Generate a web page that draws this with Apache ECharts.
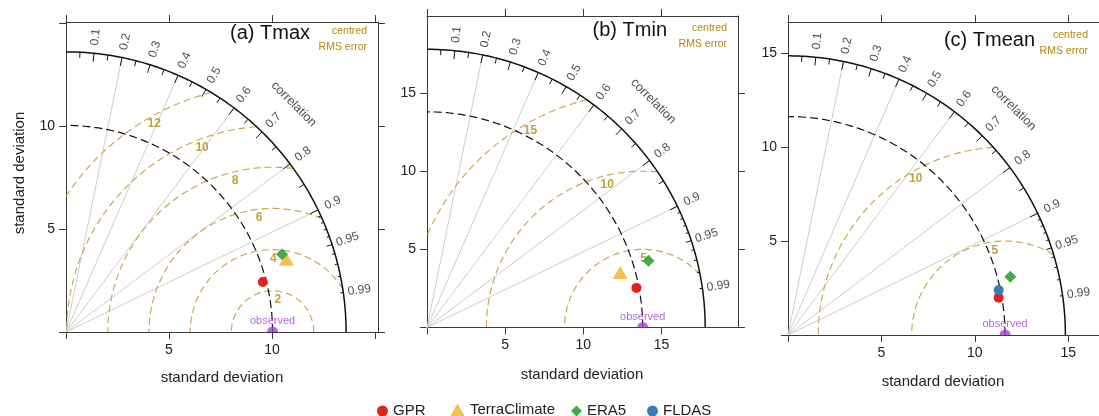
<!DOCTYPE html>
<html><head><meta charset="utf-8">
<script src="https://cdn.jsdelivr.net/npm/echarts@6/dist/echarts.min.js"></script>
<style>html,body{margin:0;padding:0;background:#fff}#c{width:1099px;height:416px}</style>
</head><body><div id="c"></div>
<script>
// ---------------- data ----------------
const panelTitles = ['(a) Tmax', '(b) Tmin', '(c) Tmean'];
const observedSD = [10.03, 13.8, 11.62];          // reference (observed) standard deviation
const maxSD = [13.6, 17.8, 14.85];                // radius of the outer correlation arc
const rmsContours = [[2, 4, 6, 8, 10, 12], [5, 10, 15], [5, 10]];
const corrLabels = [0.1, 0.2, 0.3, 0.4, 0.5, 0.6, 0.7, 0.8, 0.9, 0.95, 0.99];
const corrGridLines = [0.2, 0.4, 0.6, 0.8, 0.9];
const axisTickValues = [0, 5, 10, 15];
const axisTickLabelMax = [10, 15, 15];
// model statistics per panel: [standard deviation, correlation]
const gprStats   = [[9.86, 0.9692], [13.64, 0.9826], [11.45, 0.9849]];
const terraStats = [[11.27, 0.9495], [12.86, 0.9617], null];
const era5Stats  = [[11.15, 0.9408], [14.80, 0.9576], [12.30, 0.9677]];
const fldasStats = [null, null, [11.53, 0.9783]];
const legendNames = ['GPR', 'TerraClimate', 'ERA5', 'FLDAS'];

// ---------------- style / layout ----------------
const FONT = '"Liberation Sans", Arial, Helvetica, sans-serif';
const GOLD_LINE = '#CCA54C';
const GOLD_TEXT = '#B8860B';
const PURPLE = '#A23FD8';
const AX = '#3a3a3a';
const layout = [
  {grid: {left: 66, top: 22, width: 312, height: 310}, xMax: 15.15, yMax: 15.05,
   title: [310, 33], rmsTxt: [367, 31], xName: [222, 378]},
  {grid: {left: 427, top: 16, width: 311, height: 311.5}, xMax: 19.9, yMax: 19.93,
   title: [667, 30], rmsTxt: [727, 28], xName: [582, 375]},
  {grid: {left: 788, top: 22, width: 313, height: 313}, xMax: 16.65, yMax: 16.65,
   title: [1035, 40], rmsTxt: [1088, 35], xName: [943, 382]}
];
const modelStyles = {
  GPR: {symbol: 'circle', symbolSize: 10, color: '#E3201C'},
  TerraClimate: {symbol: 'triangle', symbolSize: [15, 13], color: '#F2C14E'},
  ERA5: {symbol: 'diamond', symbolSize: 12, color: '#45A84A'},
  FLDAS: {symbol: 'circle', symbolSize: 10, color: '#3A7DB8'}
};

function toXY(sd, c) { return [sd * c, sd * Math.sqrt(Math.max(0, 1 - c * c))]; }
function arcPts(r, a0, a1, n) {
  const p = [];
  for (let i = 0; i <= n; i++) { const a = a0 + (a1 - a0) * i / n; p.push([r * Math.cos(a), r * Math.sin(a)]); }
  return p;
}
function rmsPts(c, g, R, n) {
  let s = 0, e = Math.PI;
  const cs = (R * R - c * c - g * g) / (2 * c * g);
  if (cs < 1) s = Math.acos(Math.max(-1, cs));
  if (g > c) e = Math.acos(-c / g);
  const p = [];
  for (let i = 0; i <= n; i++) { const a = s + (e - s) * i / n; p.push([c + g * Math.cos(a), g * Math.sin(a)]); }
  return p;
}

const xAxis = [], yAxis = [], grid = [], series = [], graphic = [];
layout.forEach((L, i) => {
  grid.push(Object.assign({containLabel: false}, L.grid));
  const lblMax = axisTickLabelMax[i];
  const fmt = v => (v > 0 && v <= lblMax + 1e-9) ? String(v) : '';
  const base = (pos, max, showLabel) => ({
    gridIndex: i, type: 'value', min: 0, max: max, interval: 5, position: pos,
    axisLine: {show: true, onZero: false, lineStyle: {color: AX, width: 1}},
    axisTick: {show: true, length: 7, inside: false, customValues: axisTickValues.filter(v => v <= max),
               lineStyle: {color: AX, width: 1}},
    axisLabel: {show: showLabel, formatter: fmt, fontSize: 14, color: '#222', fontFamily: FONT, margin: 11,
                customValues: axisTickValues.filter(v => v > 0 && v <= lblMax)},
    splitLine: {show: false}
  });
  xAxis.push(base('bottom', L.xMax, true), base('top', L.xMax, false));
  yAxis.push(base('left', L.yMax, true), base('right', L.yMax, false));
  const xi = 2 * i, yi = 2 * i;
  const R = maxSD[i], obs = observedSD[i];
  const common = {xAxisIndex: xi, yAxisIndex: yi, silent: true, animation: false};

  // grey correlation lines
  series.push(Object.assign({type: 'lines', coordinateSystem: 'cartesian2d', z: 1,
    lineStyle: {color: '#cdcdcd', width: 1, opacity: 1},
    data: corrGridLines.map(c => ({coords: [[0, 0], toXY(R, c)]}))}, common));
  // centred RMS contours
  rmsContours[i].forEach(g => {
    series.push(Object.assign({type: 'line', z: 2, symbol: 'none', smooth: false,
      lineStyle: {color: GOLD_LINE, width: 1.15, type: [7, 4]},
      data: rmsPts(obs, g, R, 160)}, common));
  });
  // observed SD arc
  series.push(Object.assign({type: 'line', z: 3, symbol: 'none',
    lineStyle: {color: '#111', width: 1.2, type: [8, 4]},
    data: arcPts(obs, 0, Math.PI / 2, 120)}, common));
  // outer arc
  series.push(Object.assign({type: 'line', z: 3, symbol: 'none',
    lineStyle: {color: '#111', width: 1.5},
    data: arcPts(R, 0, Math.PI / 2, 160)}, common));
  // ticks on the outer arc
  const tick = [];
  for (let k = 1; k <= 9; k++) tick.push([k / 10, 0.97]);
  for (let k = 0; k <= 9; k++) tick.push([0.05 + k / 10, 0.98]);
  for (let k = 1; k <= 9; k++) if (k !== 5) tick.push([0.9 + k / 100, 0.99]);
  series.push(Object.assign({type: 'lines', coordinateSystem: 'cartesian2d', z: 4,
    lineStyle: {color: '#111', width: 1, opacity: 1},
    data: tick.map(t => ({coords: [toXY(R, t[0]), toXY(R * t[1], t[0])]}))}, common));
  // correlation labels
  series.push(Object.assign({type: 'scatter', z: 5, symbolSize: 1, itemStyle: {color: 'rgba(0,0,0,0)'},
    label: {show: true, position: 'inside', fontSize: 12, color: '#222', fontFamily: FONT},
    data: corrLabels.map(c => ({value: toXY(R * 1.058, c),
      label: {formatter: String(c), rotate: Math.acos(c) * 180 / Math.PI}}))}, common));
  series.push(Object.assign({type: 'scatter', z: 5, symbolSize: 1, itemStyle: {color: 'rgba(0,0,0,0)'},
    label: {show: true, position: 'inside', fontSize: 12.5, color: '#222', fontFamily: FONT},
    data: [{value: toXY(R * 1.15, Math.SQRT1_2), label: {formatter: 'correlation', rotate: -45}}]}, common));
  // RMS contour labels
  const gs = rmsContours[i], n = gs.length + 1;
  series.push(Object.assign({type: 'scatter', z: 5, symbolSize: 1, itemStyle: {color: 'rgba(0,0,0,0)'},
    label: {show: true, position: 'inside', offset: [0, 9], fontSize: 12, fontWeight: 'bold',
            color: GOLD_TEXT, fontFamily: FONT},
    data: gs.map((g, k) => {
      const idx = Math.floor(45 + 25 * (k + 1) / (n - 1));
      const a = (idx - 1) * 0.03;
      return {value: [obs + g * Math.cos(a), g * Math.sin(a)], label: {formatter: String(g)}};
    })}, common));
  // observed point + label
  series.push(Object.assign({type: 'scatter', z: 6, symbol: 'path://M0,10 A10,10 0 0 1 20,10 Z',
    symbolSize: [11, 5.5], symbolOffset: [0, '-50%'], itemStyle: {color: PURPLE},
    label: {show: true, position: 'inside', offset: [0, -8], formatter: 'observed',
            fontSize: 11, color: PURPLE, fontFamily: FONT},
    data: [[obs, 0]]}, common));
  // model points
  [[gprStats, 'GPR'], [terraStats, 'TerraClimate'], [era5Stats, 'ERA5'], [fldasStats, 'FLDAS']].forEach(([arr, name]) => {
    const st = arr[i];
    if (!st) return;
    const s = modelStyles[name];
    series.push({type: 'scatter', name: name, xAxisIndex: xi, yAxisIndex: yi, z: 7, animation: false,
      symbol: s.symbol, symbolSize: s.symbolSize, itemStyle: {color: s.color, opacity: 1},
      data: [toXY(st[0], st[1])]});
  });

  // texts
  graphic.push({type: 'text', x: L.title[0], y: L.title[1], silent: true,
    style: {text: panelTitles[i], font: '20px ' + FONT, fill: '#111', textAlign: 'right', align: 'right',
            textVerticalAlign: 'middle', verticalAlign: 'middle'}});
  graphic.push({type: 'text', x: L.rmsTxt[0], y: L.rmsTxt[1], silent: true,
    style: {text: 'centred', font: '10.5px ' + FONT, fill: GOLD_TEXT, textAlign: 'right', align: 'right',
            textVerticalAlign: 'middle', verticalAlign: 'middle'}});
  graphic.push({type: 'text', x: L.rmsTxt[0], y: L.rmsTxt[1] + 16, silent: true,
    style: {text: 'RMS error', font: '10.5px ' + FONT, fill: GOLD_TEXT, textAlign: 'right', align: 'right',
            textVerticalAlign: 'middle', verticalAlign: 'middle'}});
  graphic.push({type: 'text', x: L.xName[0], y: L.xName[1], silent: true,
    style: {text: 'standard deviation', font: '15px ' + FONT, fill: '#222', textAlign: 'center', align: 'center',
            textVerticalAlign: 'middle', verticalAlign: 'middle'}});
});
graphic.push({type: 'text', x: 20, y: 173, rotation: Math.PI / 2, silent: true,
  style: {text: 'standard deviation', font: '15px ' + FONT, fill: '#222', textAlign: 'center', align: 'center',
          textVerticalAlign: 'middle', verticalAlign: 'middle'}});

const legendPos = [[377, 11, 11], [450, 15, 13], [571, 11, 11], [647, 11, 11]];
const legend = legendNames.map((nm, k) => ({
  data: [nm], left: legendPos[k][0], top: 409 - legendPos[k][2] / 2, padding: 0, itemGap: 0,
  itemWidth: legendPos[k][1], itemHeight: legendPos[k][2], selectedMode: false,
  textStyle: {fontSize: 15, color: '#222', fontFamily: FONT}
}));

const chart = echarts.init(document.getElementById('c'), null, {renderer: 'canvas'});
chart.setOption({animation: false, backgroundColor: '#fff', grid, xAxis, yAxis, series, graphic, legend});
</script></body></html>
